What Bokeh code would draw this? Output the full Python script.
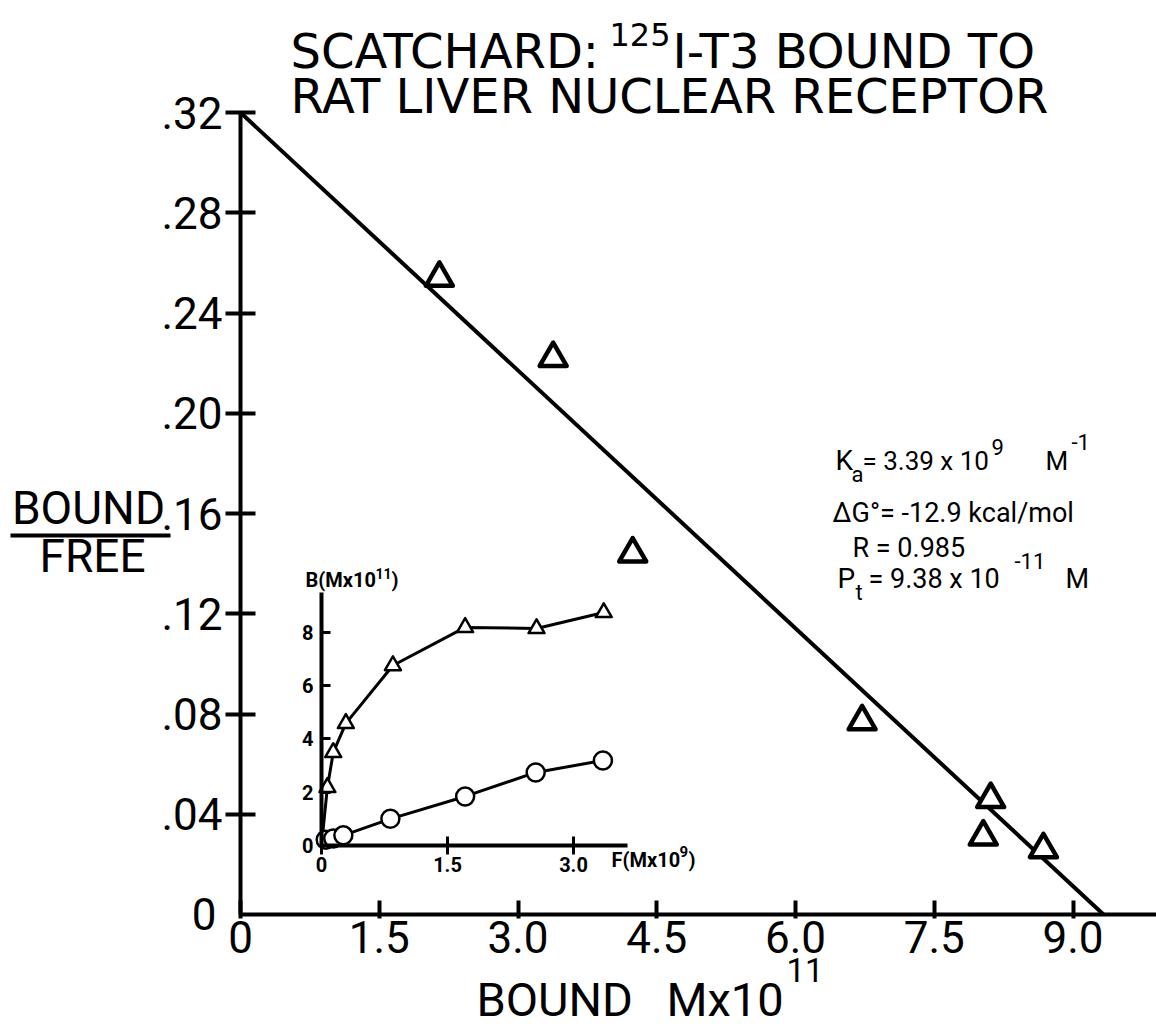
from bokeh.plotting import figure
from bokeh.models import Range1d, LinearAxis, FixedTicker, Label, BoxAnnotation
from bokeh.embed import file_html
from bokeh.resources import INLINE

# ---------------- data ----------------
# main Scatchard plot (Bound M x 10^11 vs Bound/Free)
bound_main = [2.15, 3.38, 4.24, 6.72, 8.11, 8.03, 8.68]
bf_main = [0.254, 0.222, 0.144, 0.077, 0.046, 0.031, 0.026]
fit_x = [0.0, 9.33]
fit_y = [0.32, 0.0]

x_ticks = [0, 1.5, 3.0, 4.5, 6.0, 7.5, 9.0]
x_tick_labels = ["0", "1.5", "3.0", "4.5", "6.0", "7.5", "9.0"]
y_ticks = [0.04, 0.08, 0.12, 0.16, 0.20, 0.24, 0.28, 0.32]
y_tick_labels = [".04", ".08", ".12", ".16", ".20", ".24", ".28", ".32"]

# inset saturation curves (F M x 10^9 vs B M x 10^11)
inset_tri_F = [0.07, 0.14, 0.29, 0.85, 1.71, 2.56, 3.36]
inset_tri_B = [2.18, 3.49, 4.58, 6.75, 8.18, 8.14, 8.74]
inset_circ_F = [0.05, 0.14, 0.26, 0.82, 1.71, 2.55, 3.35]
inset_circ_B = [0.22, 0.26, 0.38, 1.00, 1.84, 2.74, 3.19]
inset_origin = [0.0]
inset_x_ticks = [0, 1.5, 3.0]
inset_x_labels = ["0", "1.5", "3.0"]
inset_y_ticks = [0, 2, 4, 6, 8]
inset_y_labels = ["0", "2", "4", "6", "8"]

# ---------------- layout ----------------
W, H = 1156, 1030
OX, OY = 240, 914                   # main origin in page pixels
PX_X, PX_Y = 92.5, 2506.0           # main scale px per unit
IX0, IY0, IPX_X, IPX_Y = 321, 845, 84.0, 26.66   # inset origin & scale

p = figure(width=W, height=H, output_backend="svg", toolbar_location=None,
           x_range=Range1d(-OX / PX_X, (W - OX) / PX_X),
           y_range=Range1d(-(H - OY) / PX_Y, OY / PX_Y),
           x_axis_type=None, y_axis_type=None,
           min_border_left=0, min_border_right=0, min_border_top=0, min_border_bottom=0)
p.outline_line_color = None
p.background_fill_color = "white"
p.border_fill_color = "white"

p.extra_x_ranges = {"ix": Range1d(-IX0 / IPX_X, (W - IX0) / IPX_X)}
p.extra_y_ranges = {"iy": Range1d(-(H - IY0) / IPX_Y, IY0 / IPX_Y)}

TICK_FONT = "Roboto"

# main axes (drawn at the data origin)
xa = LinearAxis(fixed_location=0, bounds=(0, (W - OX) / PX_X),
                ticker=FixedTicker(ticks=x_ticks),
                major_label_overrides=dict(zip(x_ticks, x_tick_labels)),
                axis_line_width=4, axis_line_color="black",
                major_tick_in=14, major_tick_out=4, major_tick_line_width=4,
                minor_tick_line_color=None,
                major_label_text_font=TICK_FONT, major_label_text_font_size="44px",
                major_label_text_color="black", major_label_standoff=2)
p.add_layout(xa, "below")

ya = LinearAxis(fixed_location=0, ticker=FixedTicker(ticks=y_ticks), bounds=(0, 0.32),
                major_label_overrides=dict(zip(y_ticks, y_tick_labels)),
                axis_line_width=4, axis_line_color="black",
                major_tick_in=15, major_tick_out=15, major_tick_line_width=4,
                minor_tick_line_color=None,
                major_label_text_font=TICK_FONT, major_label_text_font_size="44px",
                major_label_text_color="black", major_label_standoff=3)
p.add_layout(ya, "left")

# inset axes (fixed at the inset origin)
ixa = LinearAxis(x_range_name="ix", y_range_name="iy", fixed_location=0, bounds=(0, 3.64),
                 ticker=FixedTicker(ticks=inset_x_ticks),
                 major_label_overrides=dict(zip(inset_x_ticks, inset_x_labels)),
                 axis_line_width=4, major_tick_in=9, major_tick_out=9, major_tick_line_width=3,
                 minor_tick_line_color=None,
                 major_label_text_font=TICK_FONT, major_label_text_font_size="20px",
                 major_label_text_font_style="bold", major_label_text_color="black",
                 major_label_standoff=2)
p.add_layout(ixa, "below")

iya = LinearAxis(x_range_name="ix", y_range_name="iy", fixed_location=0, bounds=(0, 9.5),
                 ticker=FixedTicker(ticks=inset_y_ticks),
                 major_label_overrides=dict(zip(inset_y_ticks, inset_y_labels)),
                 axis_line_width=4, major_tick_in=9, major_tick_out=0, major_tick_line_width=3,
                 minor_tick_line_color=None,
                 major_label_text_font=TICK_FONT, major_label_text_font_size="20px",
                 major_label_text_font_style="bold", major_label_text_color="black",
                 major_label_standoff=8)
p.add_layout(iya, "left")

# main data
p.line(fit_x, fit_y, line_width=4, line_color="black")
p.scatter(bound_main, bf_main, marker="triangle", size=27, fill_color="white",
          line_color="black", line_width=4.5, line_join="round")

# inset data
p.line(inset_origin + inset_tri_F, inset_origin + inset_tri_B, x_range_name="ix", y_range_name="iy",
       line_width=3, line_color="black")
p.line(inset_origin + inset_circ_F, inset_origin + inset_circ_B, x_range_name="ix", y_range_name="iy",
       line_width=3, line_color="black")
p.scatter(inset_tri_F, inset_tri_B, x_range_name="ix", y_range_name="iy", marker="triangle",
          size=16, fill_color="white", line_color="black", line_width=2.5, line_join="round")
p.scatter(inset_circ_F, inset_circ_B, x_range_name="ix", y_range_name="iy", marker="circle",
          size=18, fill_color="white", line_color="black", line_width=2.5)


# ---------------- texts (page pixel positions, y = baseline) ----------------
def lab(text, x, y, size, font="Roboto", align="left", style="normal"):
    p.add_layout(Label(x=x, y=H - y + 0.37 * size, x_units="screen", y_units="screen", text=text,
                       text_font=font, text_font_size=f"{size}px", text_align=align,
                       text_baseline="alphabetic", text_color="black", text_font_style=style))


TF = "DejaVu Sans"
TS = 48
# title
lab("SCATCHARD:", 290, 68, TS, TF)
lab("125", 609, 46, 32, TF)
lab("I-T3 BOUND TO", 672, 68, TS, TF)
lab("RAT LIVER NUCLEAR RECEPTOR", 290, 113, TS, TF)

# zero label of the y axis
lab("0", 216, 930, 44, TICK_FONT, align="right")

# x axis title
lab("BOUND", 476, 1016, 47)
lab("Mx10", 666, 1016, 47)
lab("11", 786, 982, 33)

# y axis title (fraction)
lab("BOUND", 88, 525, 46, align="center")
lab("FREE", 92, 573, 46, align="center")
p.add_layout(BoxAnnotation(left=10, right=170, top=H - 533, bottom=H - 537,
                           left_units="screen", right_units="screen",
                           top_units="screen", bottom_units="screen",
                           fill_color="black", fill_alpha=1, line_color=None))

# statistics block
lab("K", 835, 470, 28)
lab("a", 851, 482, 22)
lab("= 3.39 x 10", 862, 470, 26)
lab("9", 991, 455, 22)
lab("M", 1045, 470, 26)
lab("-1", 1071, 450, 22)
lab("ΔG°= -12.9 kcal/mol", 832, 522, 27)
lab("R = 0.985", 852, 557, 27)
lab("P", 837, 588, 28)
lab("t", 855, 600, 22)
lab("= 9.38 x 10", 868, 588, 27)
lab("-11", 1014, 569, 22)
lab("M", 1065, 588, 27)

# inset axis titles
lab("B(Mx10", 305, 587, 20, style="bold")
lab("11", 375, 578, 14, style="bold")
lab(")", 391, 587, 20, style="bold")
lab("F(Mx10", 611, 867, 20, style="bold")
lab("9", 679, 857, 15, style="bold")
lab(")", 688, 867, 20, style="bold")

open("out.html", "w").write(file_html(p, INLINE))
